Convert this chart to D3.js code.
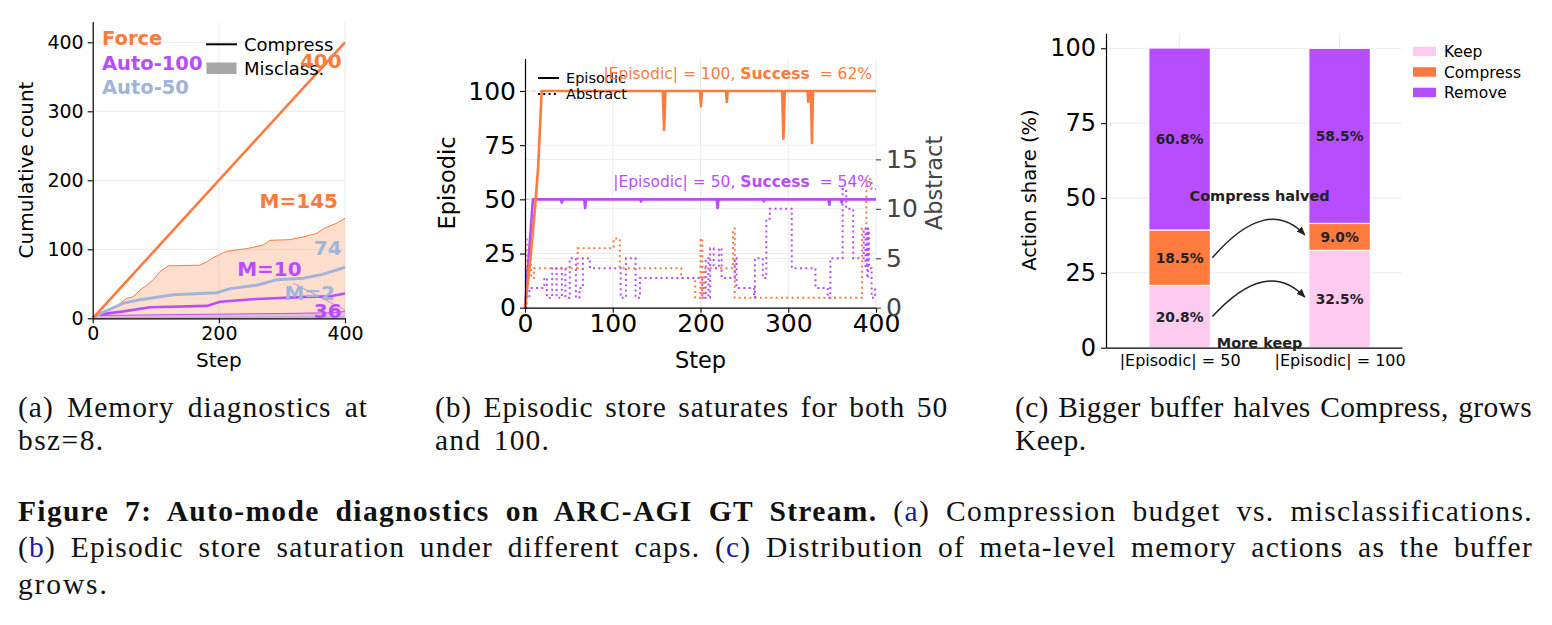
<!DOCTYPE html>
<html>
<head>
<meta charset="UTF-8">
<script src="https://d3js.org/d3.v7.min.js"></script>
<style>
  body { margin: 0; background: #fff; }
  svg { display: block; }
</style>
</head>
<body>
<svg width="1552" height="625"></svg>
<script>
// ---------- data: panel (a) cumulative counts, [step, count] ----------
var forceCompress = [[0, 0], [400, 400]];
var forceMisclass = [[0, 0], [17, 10], [38, 18], [54, 29], [64, 31], [75, 41], [86, 48], [96, 56], [107, 68], [120, 76],
  [170, 77], [181, 82], [191, 88], [212, 97], [244, 101], [270, 106], [281, 113], [313, 114], [334, 118],
  [355, 123], [366, 130], [387, 138], [400, 145]];
var auto50Compress = [[0, 0], [12, 7], [49, 22], [75, 27], [128, 34], [197, 37], [218, 43], [260, 48], [292, 56],
  [334, 58], [366, 64], [400, 74]];
var auto100Compress = [[0, 0], [6, 5], [49, 10], [91, 16], [181, 18], [202, 24], [260, 28], [340, 31], [377, 32], [400, 36]];
var auto100Misclass = [[0, 0], [8, 4], [100, 5], [200, 6], [300, 7], [380, 8], [400, 10]];
var auto50Misclass = [[0, 0], [50, 1], [300, 2], [400, 2]];

// ---------- data: panel (b) store sizes ----------
var epi100 = [[0, 0], [5, 18], [11, 44], [15, 65], [19, 100], [157, 100], [158.5, 82], [160, 100], [199.5, 100], [200.5, 93],
  [201.5, 100], [229, 100], [230, 95], [231, 100], [293, 100], [294.5, 78], [296, 100], [322, 100], [322.8, 95], [323.5, 100],
  [325.8, 100], [327, 76], [328.2, 100], [400, 100]];
var epi50 = [[0, 0], [9, 50], [41, 50], [42, 48.5], [43, 50], [67.5, 50], [68.5, 46], [69.5, 50], [131.5, 50], [132.3, 49],
  [133, 50], [218.5, 50], [219.5, 46], [220.5, 50], [271.5, 50], [272.3, 49], [273, 50], [345.8, 50], [346.8, 47.5],
  [347.8, 50], [360, 50], [361, 48.5], [362, 50], [400, 50]];
var abs100 = [[0, 0], [2, 7], [7, 3], [10, 4], [60, 6], [101, 7], [108, 4], [178, 3], [194, 1], [200, 7], [202, 1], [204, 4],
  [237, 8], [239, 1], [384, 8], [389, 13], [395, 12], [400, 12]];
var abs50 = [[0, 0], [1, 4], [2, 1], [5, 2], [22, 3], [25, 1], [31, 4], [36, 1], [42, 4], [46, 1], [51, 5], [58, 1], [62, 2],
  [66, 5], [74, 4], [109, 1], [115, 5], [126, 1], [131, 3], [202, 1], [206, 5], [209, 1], [211, 6], [215, 4], [221, 6],
  [224, 3], [239, 5], [241, 2], [261, 1], [262, 5], [271, 3], [275, 9], [279, 10], [304, 4], [331, 2], [345, 1], [348, 5],
  [362, 12], [366, 10], [374, 5], [386, 8], [388, 4], [389, 8], [390, 3], [391, 8], [392, 4], [395, 1], [399, 2], [400, 2]];

// ---------- data: panel (c) action shares ----------
var groups = ["|Episodic| = 50", "|Episodic| = 100"];
var keepShare = [20.8, 32.5];
var compressShare = [18.5, 9.0];
var removeShare = [60.8, 58.5];
var actions = ["Keep", "Compress", "Remove"];

var ORANGE = "#ff7a3d", PURPLE = "#b84dff", LBLUE = "#a2b4da", PINK = "#fdcaf0", GRID = "#ebebeb";
var FONT = "DejaVu Sans";

var svg = d3.select("svg");
svg.append("rect").attr("width", 1552).attr("height", 625).attr("fill", "#fff");

function styleAxis(g, fs, col) {
  g.attr("font-family", FONT).attr("font-size", fs);
  g.select(".domain").attr("stroke", "#000").attr("stroke-width", 1.2);
  g.selectAll(".tick line").attr("stroke", col || "#000").attr("stroke-width", 1.1);
  g.selectAll(".tick text").attr("fill", col || "#000");
}

// ======================= panel (a) =======================
var xA = d3.scaleLinear().domain([0, 400]).range([92.7, 345]);
var yA = d3.scaleLinear().domain([0, 430]).range([318.3, 21.6]);
var gA = svg.append("g");

gA.selectAll(".vg").data([200, 400]).enter().append("line")
  .attr("x1", xA).attr("x2", xA).attr("y1", yA(430)).attr("y2", yA(0))
  .attr("stroke", GRID).attr("stroke-width", 1);
gA.selectAll(".hg").data([100, 200, 300, 400]).enter().append("line")
  .attr("x1", xA(0)).attr("x2", xA(400)).attr("y1", yA).attr("y2", yA)
  .attr("stroke", GRID).attr("stroke-width", 1);

var lineA = d3.line().x(d => xA(d[0])).y(d => yA(d[1]));
var areaA = d3.area().x(d => xA(d[0])).y0(yA(0)).y1(d => yA(d[1]));

[[forceMisclass, ORANGE], [auto100Misclass, PURPLE], [auto50Misclass, LBLUE]].forEach(function (s) {
  gA.append("path").datum(s[0]).attr("d", areaA).attr("fill", s[1]).attr("fill-opacity", 0.25);
  gA.append("path").datum(s[0]).attr("d", lineA).attr("fill", "none").attr("stroke", s[1]).attr("stroke-width", 1);
});
gA.append("path").datum(auto100Compress).attr("d", lineA).attr("fill", "none").attr("stroke", PURPLE).attr("stroke-width", 2.6);
gA.append("path").datum(auto50Compress).attr("d", lineA).attr("fill", "none").attr("stroke", LBLUE).attr("stroke-width", 3);
gA.append("path").datum(forceCompress).attr("d", lineA).attr("fill", "none").attr("stroke", ORANGE).attr("stroke-width", 2.6);

// thin pointer from the M=10 label to the end of Auto-100 misclass
gA.append("line").attr("x1", xA(318)).attr("y1", yA(51)).attr("x2", xA(400)).attr("y2", yA(12))
  .attr("stroke", PURPLE).attr("stroke-width", 0.8).attr("opacity", 0.8);

styleAxis(gA.append("g").attr("transform", "translate(0," + yA(0) + ")")
  .call(d3.axisBottom(xA).tickValues([0, 200, 400]).tickSize(5).tickSizeOuter(0).tickPadding(3)), 19);
styleAxis(gA.append("g").attr("transform", "translate(" + xA(0) + ",0)")
  .call(d3.axisLeft(yA).tickValues([0, 100, 200, 300, 400]).tickSize(5).tickSizeOuter(0).tickPadding(4)), 19);

gA.append("text").attr("transform", "translate(33,170) rotate(-90)").attr("text-anchor", "middle")
  .attr("font-family", FONT).attr("font-size", 20).text("Cumulative count");
gA.append("text").attr("x", xA(200)).attr("y", 367).attr("text-anchor", "middle")
  .attr("font-family", FONT).attr("font-size", 20).text("Step");

// legend (a)
[["Force", ORANGE], ["Auto-100", PURPLE], ["Auto-50", LBLUE]].forEach(function (d, i) {
  gA.append("text").attr("x", 102).attr("y", 45 + i * 24.5).attr("font-family", FONT).attr("font-weight", "bold")
    .attr("font-size", 19.5).attr("fill", d[1]).text(d[0]);
});
gA.append("line").attr("x1", 206).attr("x2", 237).attr("y1", 44.3).attr("y2", 44.3).attr("stroke", "#000").attr("stroke-width", 2);
gA.append("text").attr("x", 244).attr("y", 50.5).attr("font-family", FONT).attr("font-size", 18).text("Compress");
gA.append("rect").attr("x", 206.5).attr("y", 62.5).attr("width", 30).attr("height", 11.5).attr("fill", "#a6a6a6");
gA.append("text").attr("x", 244).attr("y", 74.5).attr("font-family", FONT).attr("font-size", 18).text("Misclass.");

// end labels (a)
var endLbl = [
  ["400", ORANGE, 341.7, 68],
  ["M=145", ORANGE, 338, 208],
  ["74", LBLUE, 341.7, 255],
  ["M=10", PURPLE, 301.7, 275.5],
  ["M=2", LBLUE, 335, 299.5],
  ["36", PURPLE, 341.7, 318]
];
endLbl.forEach(function (d) {
  gA.append("text").attr("x", d[2]).attr("y", d[3]).attr("text-anchor", "end").attr("font-family", FONT)
    .attr("font-weight", "bold").attr("font-size", 20).attr("fill", d[1]).text(d[0]);
});

// ======================= panel (b) =======================
var xB = d3.scaleLinear().domain([0, 400]).range([525, 876]);
var yB = d3.scaleLinear().domain([0, 115]).range([307.7, 58.5]);
var yB2 = d3.scaleLinear().domain([0, 25.2]).range([307.7, 58.5]);
var gB = svg.append("g");

gB.selectAll(".vg").data([100, 200, 300, 400]).enter().append("line")
  .attr("x1", xB).attr("x2", xB).attr("y1", yB(115)).attr("y2", yB(0)).attr("stroke", GRID);
gB.selectAll(".hg").data([25, 50, 75, 100]).enter().append("line")
  .attr("x1", xB(0)).attr("x2", xB(400)).attr("y1", yB).attr("y2", yB).attr("stroke", GRID);
gB.selectAll(".hg2").data([5, 10, 15]).enter().append("line")
  .attr("x1", xB(0)).attr("x2", xB(400)).attr("y1", yB2).attr("y2", yB2).attr("stroke", GRID);

// capacity reference lines
[[100, ORANGE], [50, PURPLE]].forEach(function (d) {
  gB.append("line").attr("x1", xB(0)).attr("x2", xB(400)).attr("y1", yB(d[0])).attr("y2", yB(d[0]))
    .attr("stroke", d[1]).attr("stroke-width", 1).attr("stroke-dasharray", "4,3").attr("opacity", 0.4);
});

var lineB = d3.line().x(d => xB(d[0])).y(d => yB(d[1]));
var lineB2 = d3.line().curve(d3.curveStepAfter).x(d => xB(d[0])).y(d => yB2(d[1]));

gB.append("path").datum(abs100).attr("d", lineB2).attr("fill", "none").attr("stroke", ORANGE)
  .attr("stroke-width", 2).attr("stroke-dasharray", "2,3.3");
gB.append("path").datum(abs50).attr("d", lineB2).attr("fill", "none").attr("stroke", PURPLE)
  .attr("stroke-width", 2).attr("stroke-dasharray", "2,3.3");
gB.append("path").datum(epi50).attr("d", lineB).attr("fill", "none").attr("stroke", PURPLE)
  .attr("stroke-width", 2.6).attr("stroke-linejoin", "round");
gB.append("path").datum(epi100).attr("d", lineB).attr("fill", "none").attr("stroke", ORANGE)
  .attr("stroke-width", 2.6).attr("stroke-linejoin", "round");

styleAxis(gB.append("g").attr("transform", "translate(0," + yB(0) + ")")
  .call(d3.axisBottom(xB).tickValues([0, 100, 200, 300, 400]).tickSize(5).tickSizeOuter(0).tickPadding(2)), 25);
styleAxis(gB.append("g").attr("transform", "translate(" + xB(0) + ",0)")
  .call(d3.axisLeft(yB).tickValues([0, 25, 50, 75, 100]).tickSize(5).tickSizeOuter(0).tickPadding(4)), 25);
var rAx = gB.append("g").attr("transform", "translate(" + xB(400) + ",0)")
  .call(d3.axisRight(yB2).tickValues([0, 5, 10, 15]).tickSize(5).tickSizeOuter(0).tickPadding(5));
styleAxis(rAx, 25, "#444");
rAx.select(".domain").remove();

gB.append("text").attr("transform", "translate(455,183) rotate(-90)").attr("text-anchor", "middle")
  .attr("font-family", FONT).attr("font-size", 22.5).text("Episodic");
gB.append("text").attr("transform", "translate(942,183) rotate(-90)").attr("text-anchor", "middle")
  .attr("font-family", FONT).attr("font-size", 22.5).attr("fill", "#444").text("Abstract");
gB.append("text").attr("x", xB(200)).attr("y", 368).attr("text-anchor", "middle")
  .attr("font-family", FONT).attr("font-size", 22.5).text("Step");

// legend (b)
gB.append("line").attr("x1", 538).attr("x2", 559).attr("y1", 78).attr("y2", 78).attr("stroke", "#000").attr("stroke-width", 2);
gB.append("line").attr("x1", 538).attr("x2", 559).attr("y1", 94).attr("y2", 94).attr("stroke", "#000").attr("stroke-width", 2)
  .attr("stroke-dasharray", "2,3.3");
gB.append("text").attr("x", 566).attr("y", 83).attr("font-family", FONT).attr("font-size", 14.5).text("Episodic");
gB.append("text").attr("x", 566).attr("y", 99).attr("font-family", FONT).attr("font-size", 14.5).text("Abstract");

// success annotations
[["100", "62%", ORANGE, 79], ["50", "54%", PURPLE, 187]].forEach(function (d) {
  var t = gB.append("text").attr("x", xB(395.5)).attr("y", d[3]).attr("text-anchor", "end")
    .attr("font-family", FONT).attr("font-size", 15.5).attr("fill", d[2]);
  t.append("tspan").text("|Episodic| = " + d[0] + ", ");
  t.append("tspan").attr("font-weight", "bold").text("Success");
  t.append("tspan").attr("xml:space", "preserve").text("  = " + d[1]);
});

// ======================= panel (c) =======================
var xC = d3.scaleLinear().domain([-0.46, 1.39]).range([1106, 1402]);
var yC = d3.scaleLinear().domain([0, 105]).range([347.7, 33.3]);
var barW = 0.385;
var gC = svg.append("g");

gC.selectAll(".vg").data([0, 1]).enter().append("line")
  .attr("x1", xC).attr("x2", xC).attr("y1", yC(105)).attr("y2", yC(0)).attr("stroke", GRID);
gC.selectAll(".hg").data([25, 50, 75, 100]).enter().append("line")
  .attr("x1", xC(-0.46)).attr("x2", xC(1.39)).attr("y1", yC).attr("y2", yC).attr("stroke", GRID);

var rows = groups.map(function (g, i) {
  return { idx: i, Keep: keepShare[i], Compress: compressShare[i], Remove: removeShare[i] };
});
var stack = d3.stack().keys(actions)(rows);
var colC = { Keep: PINK, Compress: ORANGE, Remove: PURPLE };

stack.forEach(function (layer) {
  layer.forEach(function (d) {
    var cx = xC(d.data.idx);
    var x0 = xC(d.data.idx - barW / 2), x1 = xC(d.data.idx + barW / 2);
    gC.append("rect").attr("x", x0).attr("y", yC(d[1])).attr("width", x1 - x0).attr("height", yC(d[0]) - yC(d[1]))
      .attr("fill", colC[layer.key]).attr("stroke", "#fff").attr("stroke-width", 1.2);
    gC.append("text").attr("x", cx).attr("y", yC((d[0] + d[1]) / 2)).attr("dy", "0.36em").attr("text-anchor", "middle")
      .attr("font-family", FONT).attr("font-weight", "bold").attr("font-size", 13.8).attr("fill", "#222")
      .text(d3.format(".1f")(d[1] - d[0]) + "%");
  });
});

var ax = gC.append("g").attr("transform", "translate(0," + yC(0) + ")")
  .call(d3.axisBottom(xC).tickValues([0, 1]).tickFormat(function (d) { return groups[d]; })
    .tickSize(0).tickSizeOuter(0).tickPadding(7));
styleAxis(ax, 16);
styleAxis(gC.append("g").attr("transform", "translate(" + xC(-0.46) + ",0)")
  .call(d3.axisLeft(yC).tickValues([0, 25, 50, 75, 100]).tickSize(5).tickSizeOuter(0).tickPadding(5)), 24);

gC.append("text").attr("transform", "translate(1036,190) rotate(-90)").attr("text-anchor", "middle")
  .attr("font-family", FONT).attr("font-size", 19.5).text("Action share (%)");

// arrows between the bars
svg.append("defs").append("marker").attr("id", "ah").attr("viewBox", "0 0 10 10").attr("refX", 9).attr("refY", 5)
  .attr("markerWidth", 9).attr("markerHeight", 9).attr("orient", "auto").attr("markerUnits", "userSpaceOnUse")
  .append("path").attr("d", "M0,1 L10,5 L0,9 Z").attr("fill", "#222");
function midOf(i, key) {
  var layer = stack[actions.indexOf(key)][i];
  return yC((layer[0] + layer[1]) / 2);
}
["Compress", "Keep"].forEach(function (key) {
  var xs = xC(barW / 2) + 2, ys = midOf(0, key);
  var xe = xC(1 - barW / 2) - 4, ye = midOf(1, key) - 2;
  var cx = (xs + xe) / 2 + 8, cy = Math.min(ys, ye) - 40;
  gC.append("path").attr("d", "M" + xs + "," + ys + " Q" + cx + "," + cy + " " + xe + "," + ye)
    .attr("fill", "none").attr("stroke", "#222").attr("stroke-width", 1.5).attr("marker-end", "url(#ah)");
});
gC.append("text").attr("x", xC(0.5)).attr("y", yC(50.8)).attr("dy", "0.36em").attr("text-anchor", "middle")
  .attr("font-family", FONT).attr("font-weight", "bold").attr("font-size", 14.5).attr("fill", "#222").text("Compress halved");
gC.append("text").attr("x", xC(0.5)).attr("y", yC(1.5)).attr("dy", "0.36em").attr("text-anchor", "middle")
  .attr("font-family", FONT).attr("font-weight", "bold").attr("font-size", 14.5).attr("fill", "#222").text("More keep");

// legend (c)
actions.forEach(function (a, i) {
  gC.append("rect").attr("x", 1413).attr("y", 46.7 + i * 20.5).attr("width", 23).attr("height", 9.5).attr("fill", colC[a]);
  gC.append("text").attr("x", 1444).attr("y", 51.5 + i * 20.5).attr("dy", "0.36em").attr("font-family", FONT)
    .attr("font-size", 15.5).text(a);
});

// ======================= captions =======================
var SERIF = "Liberation Serif";
var BLUE = "#1a1a9c";
function capLine(x, y, parts, fs, target) {
  var t = svg.append("text").attr("x", x).attr("y", y).attr("font-family", SERIF).attr("font-size", fs)
    .attr("fill", "#111").attr("xml:space", "preserve");
  parts.forEach(function (p) {
    var s = t.append("tspan").text(p[0]);
    if (p[1] === "b") s.attr("font-weight", "bold");
    if (p[1] === "blue") s.attr("fill", BLUE);
  });
  if (target) {
    // spread the slack mostly over letters, a little over spaces
    var w = t.node().getComputedTextLength();
    var txt = t.text();
    var n = (txt.match(/ /g) || []).length;
    var ls = (target - w) * 0.6 / (txt.length - 1);
    t.attr("letter-spacing", ls);
    var w2 = t.node().getComputedTextLength();
    if (n) t.attr("word-spacing", (target - w2) / n);
  }
  return t;
}
var capA = ["(a) Memory diagnostics at", "bsz=8."];
var capB = ["(b) Episodic store saturates for both 50", "and 100."];
var capC = ["(c) Bigger buffer halves Compress, grows", "Keep."];
var FS = 29.5;
capLine(18, 417, [[capA[0]]], FS, 350); capLine(18, 450, [[capA[1]]], FS, 90);
capLine(435, 417, [[capB[0]]], FS, 513); capLine(435, 450, [[capB[1]]], FS, 115);
capLine(1015, 417, [[capC[0]]], FS, 517); capLine(1015, 450, [[capC[1]]], FS, 72);

capLine(18, 521, [["Figure 7: Auto-mode diagnostics on ARC-AGI GT Stream.", "b"], [" ("], ["a", "blue"],
  [") Compression budget vs. misclassifications."]], FS, 1515);
capLine(18, 557, [["("], ["b", "blue"], [") Episodic store saturation under different caps. ("], ["c", "blue"],
  [") Distribution of meta-level memory actions as the buffer"]], FS, 1515);
capLine(18, 594, [["grows."]], FS, 95);
</script>
</body>
</html>
